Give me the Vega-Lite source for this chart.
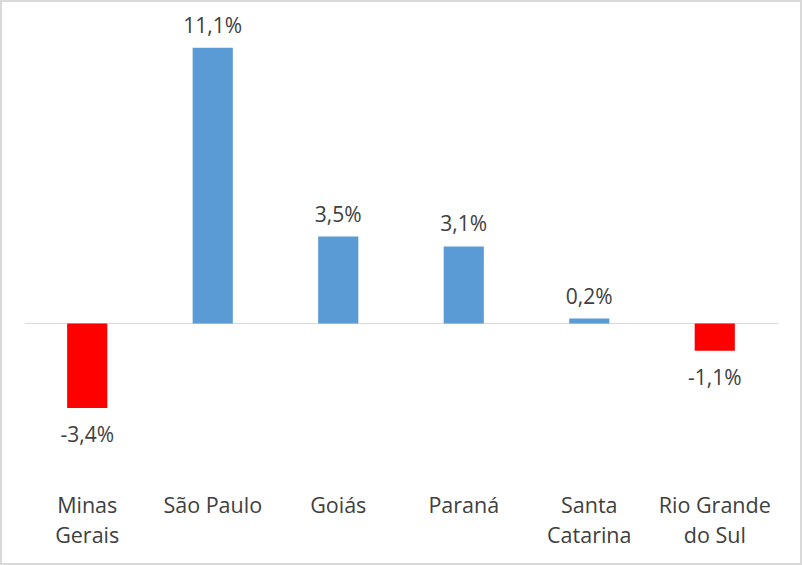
{
  "$schema": "https://vega.github.io/schema/vega-lite/v6.json",
  "width": 802,
  "height": 565,
  "autosize": "none",
  "padding": 0,
  "background": "#ffffff",
  "config": {
    "view": {"stroke": "#d9d9d9", "strokeWidth": 4},
    "font": "Open Sans",
    "locale": {"number": {"decimal": ",", "thousands": ".", "grouping": [3], "currency": ["R$", ""], "minus": "-"}}
  },
  "data": {
    "values": [
      {"estado": "Minas Gerais", "value": -0.034},
      {"estado": "São Paulo", "value": 0.111},
      {"estado": "Goiás", "value": 0.035},
      {"estado": "Paraná", "value": 0.031},
      {"estado": "Santa Catarina", "value": 0.002},
      {"estado": "Rio Grande do Sul", "value": -0.011}
    ]
  },
  "encoding": {
    "x": {
      "field": "estado",
      "type": "nominal",
      "sort": null,
      "scale": {
        "domain": ["Minas Gerais", "São Paulo", "Goiás", "Paraná", "Santa Catarina", "Rio Grande do Sul"],
        "paddingInner": 0.68,
        "paddingOuter": 0.535
      },
      "axis": {
        "title": null,
        "orient": "bottom",
        "offset": -93,
        "domain": false,
        "ticks": false,
        "grid": false,
        "labelAngle": 0,
        "labelPadding": 23,
        "labelFont": "Open Sans",
        "labelFontSize": 21.5,
        "labelColor": "#404040",
        "labelLineHeight": 30,
        "labelLimit": 0,
        "labelBaseline": "top",
        "labelExpr": "datum.label == 'Minas Gerais' ? ['Minas','Gerais'] : datum.label == 'Santa Catarina' ? ['Santa','Catarina'] : datum.label == 'Rio Grande do Sul' ? ['Rio Grande','do Sul'] : datum.label"
      }
    },
    "y": {
      "field": "value",
      "type": "quantitative",
      "scale": {"domain": [-0.0972, 0.1302], "nice": false, "zero": true},
      "axis": null
    }
  },
  "layer": [
    {
      "mark": {"type": "rule", "color": "#d9d9d9", "strokeWidth": 1},
      "encoding": {
        "x": {"datum": "Minas Gerais", "bandPosition": -1.047},
        "x2": {"datum": "Rio Grande do Sul", "bandPosition": 2.07},
        "y": {"datum": 0}
      }
    },
    {
      "mark": {"type": "bar"},
      "encoding": {
        "y2": {"datum": 0},
        "color": {
          "condition": {"test": "datum.value < 0", "value": "#FF0000"},
          "value": "#5B9BD5"
        }
      }
    },
    {
      "transform": [{"filter": "datum.value >= 0"}],
      "mark": {"type": "text", "baseline": "alphabetic", "dy": -15, "fontSize": 21, "color": "#404040", "font": "Open Sans"},
      "encoding": {"text": {"field": "value", "type": "quantitative", "format": ".1%"}}
    },
    {
      "transform": [{"filter": "datum.value < 0"}],
      "mark": {"type": "text", "baseline": "alphabetic", "dy": 34, "fontSize": 21, "color": "#404040", "font": "Open Sans"},
      "encoding": {"text": {"field": "value", "type": "quantitative", "format": ".1%"}}
    }
  ]
}
